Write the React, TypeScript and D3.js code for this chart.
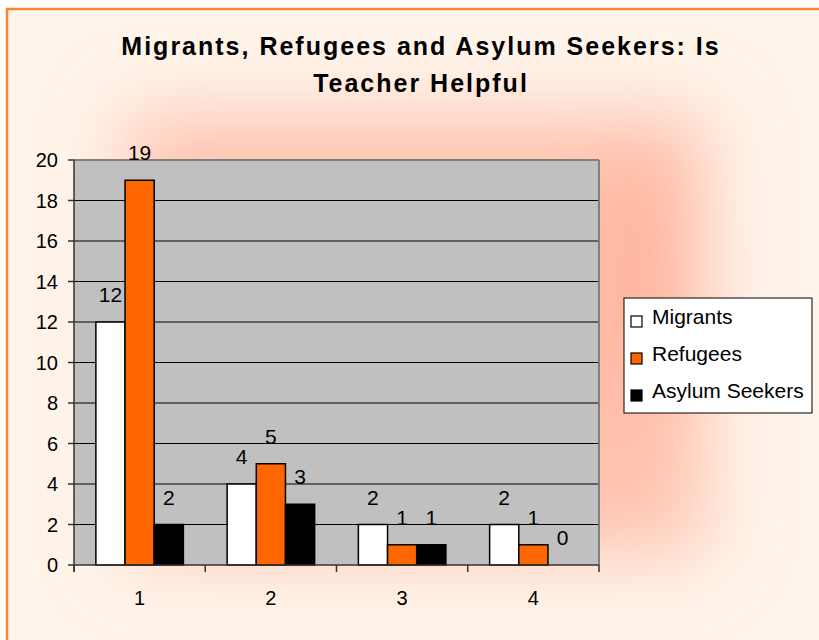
import React from "react";
import * as d3 from "d3";

const categories = ["1", "2", "3", "4"];
const seriesNames = ["Migrants", "Refugees", "Asylum Seekers"];
const migrants = [12, 4, 2, 2];
const refugees = [19, 5, 1, 1];
const asylumSeekers = [2, 3, 1, 0];
const yTicks = [0, 2, 4, 6, 8, 10, 12, 14, 16, 18, 20];
const titleLines = ["Migrants, Refugees and Asylum Seekers: Is", "Teacher Helpful"];

const seriesColors = ["#FFFFFF", "#FF6600", "#000000"];

const width = 819;
const height = 640;
const plot = { left: 74, right: 599, top: 160, bottom: 565 };
const font = "'Liberation Sans', Arial, sans-serif";

export default function App() {
  const values = [migrants, refugees, asylumSeekers];

  const x0 = d3.scaleBand<string>().domain(categories).range([plot.left, plot.right]);
  const barW = x0.bandwidth() / 4.5; // excel gap width 150%
  const x1 = d3
    .scaleBand<string>()
    .domain(seriesNames)
    .range([barW * 0.75, x0.bandwidth() - barW * 0.75]);
  const y = d3.scaleLinear().domain([0, 20]).range([plot.bottom, plot.top]);

  return (
    <svg
      width={width}
      height={height}
      style={{ position: "absolute", left: 0, top: 0 }}
      fontFamily={font}
    >
      <defs>
        <filter id="glow" x="-50%" y="-50%" width="200%" height="200%">
          <feGaussianBlur stdDeviation="38" />
        </filter>
      </defs>

      {/* background */}
      <rect x={0} y={0} width={width} height={height} fill="#FFFFFF" />
      <rect x={6} y={8} width={width - 6} height={height - 8} fill="#FFF4EA" />
      <g filter="url(#glow)">
        <rect x={125} y={115} width={580} height={440} fill="#FFB8A0" opacity={0.8} />
        <ellipse cx={640} cy={290} rx={45} ry={140} fill="#FFA088" opacity={0.45} />
      </g>
      <line x1={6} y1={9} x2={width} y2={9} stroke="#F7883A" strokeWidth={2.5} />
      <line x1={7} y1={8} x2={7} y2={height} stroke="#F7883A" strokeWidth={2.5} />

      {/* title */}
      {titleLines.map((t, i) => (
        <text
          key={t}
          x={421}
          y={55 + i * 37}
          textAnchor="middle"
          fontSize={25}
          fontWeight="bold"
          letterSpacing={2}
          fill="#000"
        >
          {t}
        </text>
      ))}

      {/* plot area */}
      <rect
        x={plot.left}
        y={plot.top}
        width={plot.right - plot.left}
        height={plot.bottom - plot.top}
        fill="#C0C0C0"
      />
      {yTicks
        .filter((t) => t > 0 && t < 20)
        .map((t) => (
          <line
            key={t}
            x1={plot.left}
            x2={plot.right}
            y1={y(t)}
            y2={y(t)}
            stroke="#000"
            strokeWidth={1}
          />
        ))}
      <line x1={plot.left} x2={plot.right} y1={plot.top} y2={plot.top} stroke="#808080" strokeWidth={2} />
      <line x1={plot.right} x2={plot.right} y1={plot.top} y2={plot.bottom} stroke="#808080" strokeWidth={2} />

      {/* bars */}
      {categories.map((c, ci) => (
        <g key={c} transform={`translate(${x0(c)},0)`}>
          {seriesNames.map((s, si) => {
            const v = values[si][ci];
            const bx = x1(s)!;
            return (
              <g key={s}>
                {v > 0 && (
                  <rect
                    x={bx}
                    y={y(v)}
                    width={x1.bandwidth()}
                    height={y(0) - y(v)}
                    fill={seriesColors[si]}
                    stroke="#000"
                    strokeWidth={1.5}
                  />
                )}
                <text
                  x={bx + x1.bandwidth() / 2}
                  y={y(v) - 20}
                  textAnchor="middle"
                  fontSize={21}
                  fill="#000"
                >
                  {v}
                </text>
              </g>
            );
          })}
        </g>
      ))}

      {/* axes */}
      <line x1={plot.left} x2={plot.left} y1={plot.top} y2={plot.bottom + 7} stroke="#333" strokeWidth={1.5} />
      <line x1={plot.left} x2={plot.right} y1={plot.bottom} y2={plot.bottom} stroke="#333" strokeWidth={1.5} />
      {yTicks.map((t) => (
        <g key={t}>
          <line x1={plot.left - 6} x2={plot.left} y1={y(t)} y2={y(t)} stroke="#333" strokeWidth={1.5} />
          <text x={58} y={y(t) + 7} textAnchor="end" fontSize={20} fill="#000">
            {t}
          </text>
        </g>
      ))}
      {[...categories.map((c) => x0(c)!), plot.right].map((px, i) => (
        <line key={i} x1={px} x2={px} y1={plot.bottom} y2={plot.bottom + 7} stroke="#333" strokeWidth={1.5} />
      ))}
      {categories.map((c) => (
        <text key={c} x={x0(c)! + x0.bandwidth() / 2} y={605} textAnchor="middle" fontSize={20} fill="#000">
          {c}
        </text>
      ))}

      {/* legend */}
      <rect x={624} y={298} width={188} height={115} fill="#FFFFFF" stroke="#000" strokeWidth={1} />
      {seriesNames.map((s, i) => (
        <g key={s} transform={`translate(631,${324 + i * 37})`}>
          <rect x={0} y={-8} width={11} height={11} fill={seriesColors[i]} stroke="#000" strokeWidth={1.2} />
          <text x={21} y={0} fontSize={21} fill="#000">
            {s}
          </text>
        </g>
      ))}
    </svg>
  );
}
